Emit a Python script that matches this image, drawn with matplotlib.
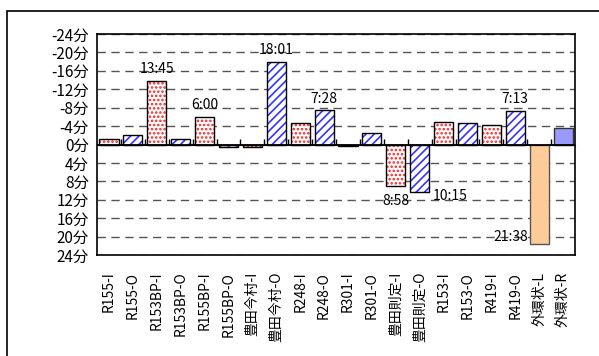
import matplotlib
matplotlib.use("Agg")
import matplotlib.pyplot as plt
from matplotlib.patches import Rectangle

plt.rcParams['font.family'] = ['Noto Sans CJK JP', 'DejaVu Sans']
plt.rcParams['hatch.linewidth'] = 1.2

# --- data (minutes; negative = shorter) ---
categories = ["R155-I", "R155-O", "R153BP-I", "R153BP-O", "R155BP-I", "R155BP-O",
              "豊田今村-I", "豊田今村-O", "R248-I", "R248-O", "R301-I", "R301-O",
              "豊田則定-I", "豊田則定-O", "R153-I", "R153-O", "R419-I", "R419-O",
              "外環状-L", "外環状-R"]
values = [-1.3, -2.0, -13.75, -1.3, -6.0, 0.6,
          0.6, -18.02, -4.6, -7.47, 0.3, -2.4,
          8.97, 10.25, -4.8, -4.6, -4.2, -7.22,
          21.63, -3.5]
kinds = ["I", "O", "I", "O", "I", "O", "I", "O", "I", "O", "I", "O",
         "I", "O", "I", "O", "I", "O", "L", "R"]
label_idx = [2, 4, 7, 9, 12, 13, 17, 18]
label_txt = ["13:45", "6:00", "18:01", "7:28", "8:58", "10:15", "7:13", "21:38"]
yticks = [-24, -20, -16, -12, -8, -4, 0, 4, 8, 12, 16, 20, 24]

# label offsets in pixels (dx, dy)
label_off = {2: (0, 12), 4: (0, 12), 7: (0, 12), 9: (0, 11), 17: (0, 12),
             12: (0, -15), 13: (30, -4), 18: (-28, 7)}

fig = plt.figure(figsize=(5.99, 3.56), dpi=100)
ax = fig.add_axes([0.162, 0.2837, 0.798, 0.6208])

# outer chart border (left/top visible)
fig.patches.append(Rectangle((7 / 599, -0.1), 1.2, 1 - 11 / 356 + 0.1,
                             transform=fig.transFigure, fill=False,
                             edgecolor="black", linewidth=1.2, zorder=0))

x = list(range(len(categories)))
w = 0.8
for i, (v, k) in enumerate(zip(values, kinds)):
    if k == "I":
        ax.bar(i, v, w, color="white", edgecolor="#FF2020", hatch="....",
               linewidth=0, zorder=3)
        ax.bar(i, v, w, fill=False, edgecolor="black", linewidth=1, zorder=4)
    elif k == "O":
        ax.bar(i, v, w, color="white", edgecolor="#3333FF", hatch="////",
               linewidth=0, zorder=3)
        ax.bar(i, v, w, fill=False, edgecolor="black", linewidth=1, zorder=4)
    elif k == "L":
        ax.bar(i, v, w, color="#FFCC99", edgecolor="#555555", linewidth=1, zorder=3)
    else:
        ax.bar(i, v, w, color="#9999FF", edgecolor="#333333", linewidth=1, zorder=3)

for i, t in zip(label_idx, label_txt):
    dx, dy = label_off[i]
    ax.annotate(t, (i, values[i]), xytext=(dx * 0.72, dy * 0.72),
                textcoords="offset points", ha="center", va="center",
                fontsize=10, zorder=5)

ax.set_ylim(24, -24)
ax.set_xlim(-0.5, len(categories) - 0.5)
ax.set_yticks(yticks)
ax.set_yticklabels([f"{v}分" for v in yticks], fontsize=11)
ax.tick_params(axis="y", length=0, pad=6)

for yv in yticks:
    if yv != 0:
        ax.axhline(yv, color="#555555", linewidth=1, linestyle=(0, (6, 4)), zorder=1)
ax.axhline(0, color="black", linewidth=1.3, zorder=5)

ax.set_xticks(x)
ax.set_xticklabels(categories, rotation=90, fontsize=10)
ax.tick_params(axis="x", length=0, pad=12)

sec = ax.secondary_xaxis(0.5)
sec.set_xticks([i + 0.5 for i in x[:-1]])
sec.set_xticklabels([])
sec.tick_params(length=4, width=1, direction="out")
sec.spines["bottom"].set_visible(False)

for s in ax.spines.values():
    s.set_linewidth(1.2)
    s.set_color("black")

fig.savefig("out.png", dpi=100)
